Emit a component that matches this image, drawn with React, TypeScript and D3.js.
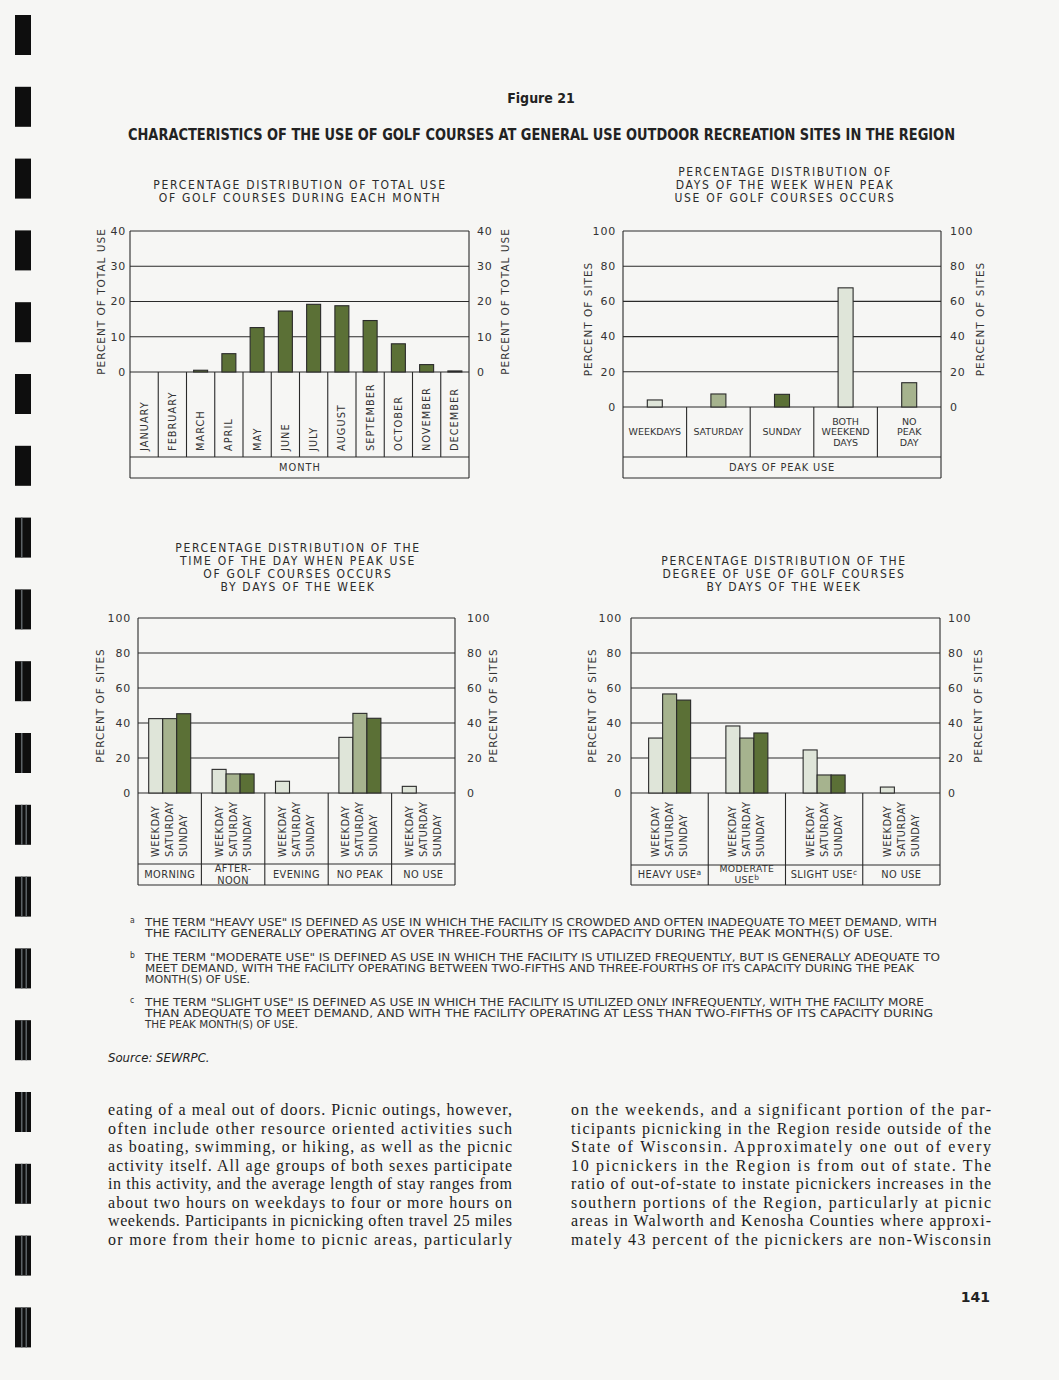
import React from 'react';
import * as d3 from 'd3';

// ---- data ----
const months = ['JANUARY', 'FEBRUARY', 'MARCH', 'APRIL', 'MAY', 'JUNE', 'JULY', 'AUGUST', 'SEPTEMBER', 'OCTOBER', 'NOVEMBER', 'DECEMBER'];
const monthUse = [0, 0, 0.5, 5.2, 12.6, 17.3, 19.2, 18.8, 14.6, 8.0, 2.1, 0.3];
const monthTicks = [0, 10, 20, 30, 40];

const peakDays = [['WEEKDAYS'], ['SATURDAY'], ['SUNDAY'], ['BOTH', 'WEEKEND', 'DAYS'], ['NO', 'PEAK', 'DAY']];
const peakDayShare = [4, 7.4, 7.2, 67.7, 13.8];
const siteTicks = [0, 20, 40, 60, 80, 100];

const dayTypes = ['WEEKDAY', 'SATURDAY', 'SUNDAY'];

const timeOfDay = [['MORNING'], ['AFTER-', 'NOON'], ['EVENING'], ['NO PEAK'], ['NO USE']];
const timeWeekday = [42.5, 13.5, 6.7, 31.8, 3.8];
const timeSaturday = [42.5, 10.9, 0, 45.5, 0];
const timeSunday = [45.3, 10.9, 0, 42.7, 0];

const useDegree = [
  { lines: ['HEAVY USE'], sup: 'a' },
  { lines: ['MODERATE', 'USE'], sup: 'b' },
  { lines: ['SLIGHT USE'], sup: 'c' },
  { lines: ['NO USE'], sup: '' },
];
const degreeWeekday = [31.4, 38.3, 24.6, 3.4];
const degreeSaturday = [56.6, 31.4, 10.3, 0];
const degreeSunday = [53.1, 34.3, 10.3, 0];

const noteA = [
  'THE TERM "HEAVY USE" IS DEFINED AS USE IN WHICH THE FACILITY IS CROWDED AND OFTEN INADEQUATE TO MEET DEMAND,   WITH',
  'THE FACILITY GENERALLY OPERATING AT OVER THREE-FOURTHS OF ITS CAPACITY DURING THE PEAK MONTH(S) OF USE.',
];
const noteB = [
  'THE TERM "MODERATE USE" IS DEFINED AS USE IN WHICH THE FACILITY IS UTILIZED FREQUENTLY, BUT IS GENERALLY ADEQUATE TO',
  'MEET DEMAND, WITH THE FACILITY OPERATING BETWEEN TWO-FIFTHS AND THREE-FOURTHS OF ITS CAPACITY DURING THE PEAK',
  'MONTH(S) OF USE.',
];
const noteC = [
  'THE TERM "SLIGHT USE" IS DEFINED AS USE IN WHICH THE FACILITY IS UTILIZED ONLY INFREQUENTLY, WITH THE FACILITY MORE',
  'THAN ADEQUATE TO MEET DEMAND, AND WITH THE FACILITY OPERATING AT LESS THAN TWO-FIFTHS OF ITS CAPACITY DURING',
  'THE PEAK MONTH(S) OF USE.',
];

const leftColumn = [
  'eating of a meal out of doors. Picnic outings, however,',
  'often include other resource oriented activities such',
  'as boating, swimming, or hiking, as well as the picnic',
  'activity itself. All age groups of both sexes participate',
  'in this activity, and the average length of stay ranges from',
  'about two hours on weekdays to four or more hours on',
  'weekends. Participants in picnicking often travel 25 miles',
  'or more from their home to picnic areas, particularly',
];
const rightColumn = [
  'on the weekends, and a significant portion of the par-',
  'ticipants picnicking in the Region reside outside of the',
  'State of Wisconsin. Approximately one out of every',
  '10 picnickers in the Region is from out of state. The',
  'ratio of out-of-state to instate picnickers increases in the',
  'southern portions of the Region, particularly at picnic',
  'areas in Walworth and Kenosha Counties where approxi-',
  'mately 43 percent of the picnickers are non-Wisconsin',
];

// ---- styling ----
const WIDE = "'DejaVu Sans', Verdana, sans-serif";
const COND = "'DejaVu Sans Condensed', 'Liberation Sans Narrow', sans-serif";
const SERIF = "'Liberation Serif', 'DejaVu Serif', serif";
const INK = '#2a2a2a';
const DARK = '#5b7036';
const MID = '#a6b38e';
const LIGHT = '#dfe5d9';
const PAPER = '#f6f6f4';

type Series = { values: number[]; fill: string | string[] };

type PanelProps = {
  x0: number; x1: number; yTop: number; yZero: number; yCat: number; yBottom: number;
  max: number; ticks: number[]; n: number; series: Series[]; barW: number;
  axisTitle: string; leftTickX: number; rightTickX: number; leftTitleX: number; rightTitleX: number;
  splitBottom?: boolean;
  labels: (i: number, band: d3.ScaleBand<string>, barX: (s: number, i: number) => number) => React.ReactNode;
  bottom?: React.ReactNode;
};

function Panel(p: PanelProps) {
  const keys = d3.range(p.n).map(String);
  const x = d3.scaleBand().domain(keys).range([p.x0, p.x1]).padding(0);
  const y = d3.scaleLinear().domain([0, p.max]).range([p.yZero, p.yTop]);
  const groupW = p.barW * p.series.length;
  const inner = d3.scaleBand().domain(d3.range(p.series.length).map(String)).range([0, groupW]).padding(0);
  const barX = (s: number, i: number) => (x(String(i)) || 0) + (x.bandwidth() - groupW) / 2 + (inner(String(s)) || 0);
  const mid = (p.yTop + p.yZero) / 2;
  const sepBottom = p.splitBottom ? p.yBottom : p.yCat;
  return (
    <g>
      {p.ticks.map(t => (
        <line key={'g' + t} x1={p.x0} x2={p.x1} y1={y(t)} y2={y(t)} stroke={INK} strokeWidth={1.1} />
      ))}
      <line x1={p.x0} x2={p.x1} y1={p.yCat} y2={p.yCat} stroke={INK} strokeWidth={1.1} />
      <line x1={p.x0} x2={p.x1} y1={p.yBottom} y2={p.yBottom} stroke={INK} strokeWidth={1.1} />
      <line x1={p.x0} x2={p.x0} y1={p.yTop} y2={p.yBottom} stroke={INK} strokeWidth={1.1} />
      <line x1={p.x1} x2={p.x1} y1={p.yTop} y2={p.yBottom} stroke={INK} strokeWidth={1.1} />
      {keys.slice(1).map(k => (
        <line key={'s' + k} x1={x(k)} x2={x(k)} y1={p.yZero} y2={sepBottom} stroke={INK} strokeWidth={1.1} />
      ))}
      {p.series.map((s, si) =>
        s.values.map((v, i) =>
          v > 0 ? (
            <rect key={si + '-' + i} x={barX(si, i)} y={y(v)} width={p.barW} height={p.yZero - y(v)}
              fill={Array.isArray(s.fill) ? s.fill[i] : s.fill} stroke={INK} strokeWidth={1.1} />
          ) : null
        )
      )}
      <g fontFamily={WIDE} fontSize={11} fill="#333" letterSpacing={0.8}>
        {p.ticks.map(t => (
          <text key={'l' + t} x={p.leftTickX} y={y(t)} dy="0.35em" textAnchor="end">{t}</text>
        ))}
        {p.ticks.map(t => (
          <text key={'r' + t} x={p.rightTickX} y={y(t)} dy="0.35em" textAnchor="start">{t}</text>
        ))}
      </g>
      <g fontFamily={WIDE} fontSize={10.5} fill="#333" letterSpacing={1}>
        <text transform={`translate(${p.leftTitleX},${mid}) rotate(-90)`} textAnchor="middle" dy="0.35em">{p.axisTitle}</text>
        <text transform={`translate(${p.rightTitleX},${mid}) rotate(-90)`} textAnchor="middle" dy="0.35em">{p.axisTitle}</text>
      </g>
      <g fontFamily={WIDE} fontSize={9.8} fill="#333">
        {keys.map((k, i) => <React.Fragment key={'c' + k}>{p.labels(i, x, barX)}</React.Fragment>)}
        {p.bottom}
      </g>
    </g>
  );
}

function Title({ lines, cx, y0 }: { lines: string[]; cx: number; y0: number }) {
  return (
    <g fontFamily={COND} fontSize={12} fill="#2b2b2b" letterSpacing={1.7} textAnchor="middle">
      {lines.map((l, i) => <text key={i} x={cx} y={y0 + i * 13}>{l}</text>)}
    </g>
  );
}

const App: React.FC = () => {
  const marks = d3.range(19);
  const noteLen = [[792, 748], [795, 769, 105], [779, 788, 153]];
  return (
    <svg width={1059} height={1380} style={{ position: 'absolute', left: 0, top: 0, background: PAPER }}>
      <rect width={1059} height={1380} fill={PAPER} />
      {marks.map(i => (
        <g key={i}>
          <rect x={15} y={15 + i * 71.8} width={16} height={40} fill="#0e0e0e" />
          {i > 6 && <rect x={21} y={15 + i * 71.8} width={1.5} height={40} fill="#5c6266" />}
          {i > 10 && <rect x={25.5} y={15 + i * 71.8} width={1.5} height={40} fill="#5c6266" />}
        </g>
      ))}

      <text x={541} y={103} textAnchor="middle" fontFamily={COND} fontWeight="bold" fontSize={14} fill="#222">Figure 21</text>
      <text x={128} y={140} textLength={827} lengthAdjust="spacingAndGlyphs" fontFamily={COND} fontWeight="bold" fontSize={15} fill="#222">
        CHARACTERISTICS OF THE USE OF GOLF COURSES AT GENERAL USE OUTDOOR RECREATION SITES IN THE REGION
      </text>

      <Title lines={['PERCENTAGE DISTRIBUTION OF TOTAL USE', 'OF GOLF COURSES DURING EACH MONTH']} cx={300} y0={189} />
      <Title lines={['PERCENTAGE DISTRIBUTION OF', 'DAYS OF THE WEEK WHEN PEAK', 'USE OF GOLF COURSES OCCURS']} cx={785} y0={176} />
      <Title lines={['PERCENTAGE DISTRIBUTION OF THE', 'TIME OF THE DAY WHEN PEAK USE', 'OF GOLF COURSES OCCURS', 'BY DAYS OF THE WEEK']} cx={298} y0={552} />
      <Title lines={['PERCENTAGE DISTRIBUTION  OF  THE', 'DEGREE OF USE OF GOLF COURSES', 'BY DAYS OF THE WEEK']} cx={784} y0={565} />

      {/* monthly use */}
      <Panel x0={130} x1={469} yTop={231} yZero={372} yCat={457} yBottom={478} max={40} ticks={monthTicks}
        n={months.length} series={[{ values: monthUse, fill: DARK }]} barW={14}
        axisTitle="PERCENT OF TOTAL USE" leftTickX={126} rightTickX={477} leftTitleX={101} rightTitleX={505}
        labels={(i, band) => (
          <text transform={`translate(${(band(String(i)) || 0) + band.bandwidth() / 2},451) rotate(-90)`} dy="0.35em" letterSpacing={1}>{months[i]}</text>
        )}
        bottom={<text x={300} y={468} dy="0.35em" textAnchor="middle" letterSpacing={1}>MONTH</text>}
      />

      {/* peak days */}
      <Panel x0={623} x1={941} yTop={231} yZero={407} yCat={457} yBottom={478} max={100} ticks={siteTicks}
        n={peakDays.length} series={[{ values: peakDayShare, fill: [LIGHT, MID, DARK, LIGHT, MID] }]} barW={15}
        axisTitle="PERCENT OF SITES" leftTickX={616} rightTickX={950} leftTitleX={588} rightTitleX={980}
        labels={(i, band) => {
          const cx = (band(String(i)) || 0) + band.bandwidth() / 2;
          const ls = peakDays[i];
          const top = 432 - (ls.length - 1) * 5.3;
          return ls.map((l, j) => (
            <text key={j} x={cx} y={top + j * 10.6} dy="0.35em" textAnchor="middle" fontSize={9.5}>{l}</text>
          ));
        }}
        bottom={<text x={782} y={468} dy="0.35em" textAnchor="middle" letterSpacing={0.8}>DAYS  OF  PEAK  USE</text>}
      />

      {/* time of day */}
      <Panel x0={138} x1={455} yTop={618} yZero={793} yCat={864} yBottom={885} max={100} ticks={siteTicks}
        n={timeOfDay.length} barW={14} splitBottom
        series={[{ values: timeWeekday, fill: LIGHT }, { values: timeSaturday, fill: MID }, { values: timeSunday, fill: DARK }]}
        axisTitle="PERCENT OF SITES" leftTickX={131} rightTickX={467} leftTitleX={100} rightTitleX={493}
        labels={(i, band, barX) => {
          const cx = (band(String(i)) || 0) + band.bandwidth() / 2;
          const ls = timeOfDay[i];
          const top = 874.5 - (ls.length - 1) * 6;
          return (
            <g>
              {dayTypes.map((d, s) => (
                <text key={d} transform={`translate(${barX(s, i) + 7},857) rotate(-90)`} dy="0.35em" letterSpacing={0.5}>{d}</text>
              ))}
              {ls.map((l, j) => (
                <text key={j} x={cx} y={top + j * 12} dy="0.35em" textAnchor="middle" letterSpacing={0.4}>{l}</text>
              ))}
            </g>
          );
        }}
      />

      {/* degree of use */}
      <Panel x0={631} x1={940} yTop={618} yZero={793} yCat={865} yBottom={885} max={100} ticks={siteTicks}
        n={useDegree.length} barW={14} splitBottom
        series={[{ values: degreeWeekday, fill: LIGHT }, { values: degreeSaturday, fill: MID }, { values: degreeSunday, fill: DARK }]}
        axisTitle="PERCENT OF SITES" leftTickX={622} rightTickX={948} leftTitleX={592} rightTitleX={978}
        labels={(i, band, barX) => {
          const cx = (band(String(i)) || 0) + band.bandwidth() / 2;
          const { lines, sup } = useDegree[i];
          const top = 874.5 - (lines.length - 1) * 5.3;
          return (
            <g>
              {dayTypes.map((d, s) => (
                <text key={d} transform={`translate(${barX(s, i) + 7},857) rotate(-90)`} dy="0.35em" letterSpacing={0.5}>{d}</text>
              ))}
              {lines.map((l, j) => (
                <text key={j} x={cx} y={top + j * 10.6} dy="0.35em" textAnchor="middle" letterSpacing={0.4}
                  fontSize={lines.length > 1 ? 9.3 : 9.8}>
                  {l}{j === lines.length - 1 && sup ? <tspan fontSize={7.5} dy="-0.45em">{sup}</tspan> : null}
                </text>
              ))}
            </g>
          );
        }}
      />

      {/* footnotes */}
      <g fontFamily={COND} fontSize={9.6} fill="#333">
        {[noteA, noteB, noteC].map((note, k) => {
          const y0 = [926, 961, 1006][k];
          return (
            <g key={k}>
              <text x={130} y={y0 - 3} fontSize={8.5}>{'abc'[k]}</text>
              {note.map((l, j) => (
                <text key={j} x={145} y={y0 + j * 11} textLength={noteLen[k][j]} lengthAdjust="spacingAndGlyphs">{l}</text>
              ))}
            </g>
          );
        })}
      </g>
      <text x={108} y={1062} fontFamily={COND} fontStyle="italic" fontSize={13} fill="#222">Source:  SEWRPC.</text>

      {/* body text */}
      <g fontFamily={SERIF} fontSize={16} fill="#1c1c1c">
        {leftColumn.map((l, j) => (
          <text key={'L' + j} x={108} y={1115 + j * 18.5} textLength={404} lengthAdjust="spacing">{l}</text>
        ))}
        {rightColumn.map((l, j) => (
          <text key={'R' + j} x={571} y={1115 + j * 18.5} textLength={420} lengthAdjust="spacing">{l}</text>
        ))}
      </g>
      <text x={990} y={1302} textAnchor="end" fontFamily={WIDE} fontWeight="bold" fontSize={14} fill="#222">141</text>
    </svg>
  );
};

export default App;
